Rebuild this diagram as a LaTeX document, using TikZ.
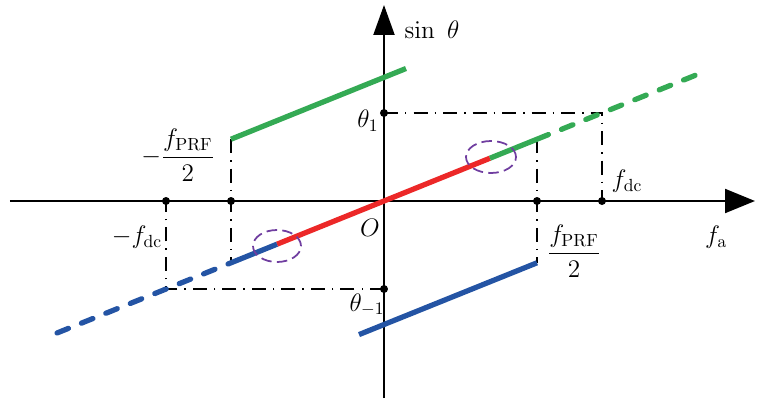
\documentclass[tikz,border=0pt]{standalone}
\usepackage{amsmath}
\usetikzlibrary{arrows.meta}
\definecolor{sgreen}{RGB}{52,170,84}
\definecolor{sred}{RGB}{236,40,40}
\definecolor{sblue}{RGB}{36,84,164}
\definecolor{spurple}{RGB}{112,62,160}
\tikzset{
  axisline/.style={line width=1.2pt},
  band/.style={line width=3pt},
  bandext/.style={line width=3pt, line cap=round, dash pattern=on 7pt off 8pt},
  guide/.style={line width=0.8pt, dash pattern=on 8pt off 4pt on 0.8pt off 4pt},
  ring/.style={spurple, line width=1pt, dash pattern=on 6pt off 3pt},
  dotmark/.style={fill=black},
}
\begin{document}
\begin{tikzpicture}[x=0.02cm, y=0.02cm, font=\fontsize{14}{17}\selectfont]
    \useasboundingbox (-384,-199) rectangle (387,201);
    % axes
    \coordinate (O) at (0,0);
    \draw[axisline, -{Triangle[length=0.6cm,width=0.48cm]}] (-374,0) -- (371,0);
    \draw[axisline, -{Triangle[length=0.6cm,width=0.42cm]}] (0,-197) -- (0,196);
    \coordinate (pr) at (153,0);
    \coordinate (pl) at (-153,0);
    \coordinate (dr) at (218,0);
    \coordinate (dl) at (-218,0);
    \coordinate (t1) at (0,88);
    \coordinate (tm) at (0,-88);
    % ends of the bands
    \coordinate (gu1) at (-153,61.8);
    \coordinate (gu2) at (22,132.5);
    \coordinate (cl) at (-107,-43.2);
    \coordinate (cr) at (106,42.8);
    \coordinate (gl1) at (153,61.8);
    \coordinate (gl2) at (323,130.4);
    \coordinate (bl1) at (-153,-61.8);
    \coordinate (bl2) at (-327,-132);
    \coordinate (br1) at (-25,-133.6);
    \coordinate (br2) at (153,-61.8);
    % guides
    \draw[guide] (t1) -- (218,88) -- (dr);
    \draw[guide] (tm) -- (-218,-88) -- (dl);
    \draw[guide] (gl1) -- (br2);
    \draw[guide] (gu1) -- (bl1);
    % bands
    \draw[band, sgreen] (gu1) -- (gu2);
    \draw[band, sred] (cl) -- (cr);
    \draw[band, sgreen] (cr) -- (gl1);
    \draw[bandext, sgreen] (gl1) -- (gl2);
    \draw[band, sblue] (bl1) -- (cl);
    \draw[bandext, sblue] (bl2) -- (bl1);
    \draw[band, sblue] (br1) -- (br2);
    % rings
    \draw[ring] (-107,-45) ellipse [x radius=24, y radius=16];
    \draw[ring] (107,44) ellipse [x radius=25, y radius=16];
    % dots
    \foreach \p in {pr,pl,dr,dl,t1,tm}
        \fill[dotmark] (\p) circle [radius=0.08cm];
    % labels
    \node (sinlab) at (48,171) {$\sin\ \theta$};
    \node (falab) at (332,-36) {$f_{\mathrm{a}}$};
    \node (Olab) at (-14,-27) {$O$};
    \node (t1lab) at (-16,80) {$\theta_1$};
    \node (tmlab) at (-17,-104) {$\theta_{-1}$};
    \node (pllab) at (-206,46) {$-\dfrac{f_{\mathrm{PRF}}}{2}$};
    \node (prlab) at (190,-50) {$\dfrac{f_{\mathrm{PRF}}}{2}$};
    \node (drlab) at (243,20) {$f_{\mathrm{dc}}$};
    \node (dllab) at (-247,-36) {$-f_{\mathrm{dc}}$};
\end{tikzpicture}
\end{document}
